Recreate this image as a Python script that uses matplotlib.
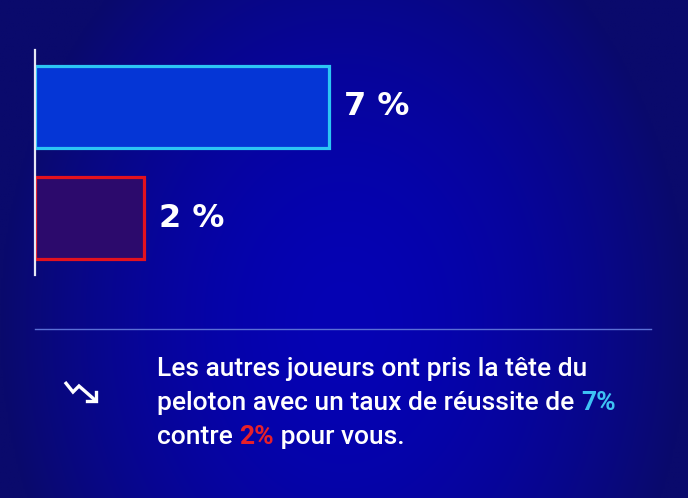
import numpy as np
import matplotlib
matplotlib.use("Agg")
import matplotlib.pyplot as plt

# data
groups = ["Autres joueurs", "Vous"]
rates = [7, 2]
rate_labels = ["7 %", "2 %"]
fills = ["#0536d6", "#2c0a6c"]
edges = ["#2cc6f4", "#e4121e"]
msg_lines = [
    [("Les autres joueurs ont pris la tête du", "white")],
    [("peloton avec un taux de réussite de ", "white"), ("7%", "#3ec3f4")],
    [("contre ", "white"), ("2%", "#e8202a"), (" pour vous.", "white")],
]

W, H = 688, 498
fig = plt.figure(figsize=(W / 100, H / 100), dpi=100)

# background gradient
bg = fig.add_axes([0, 0, 1, 1])
xx, yy = np.meshgrid(np.linspace(-1, 1, 400), np.linspace(-1, 1, 300))
r = np.clip(np.sqrt((xx / 1.0) ** 2 + ((yy - 0.3) / 1.8) ** 2), 0, 1)
center = np.array([5, 2, 180]) / 255
edge = np.array([10, 10, 108]) / 255
t = r[..., None] ** 1.8
img = center * (1 - t) + edge * t
bg.imshow(img, aspect="auto", extent=[0, 1, 0, 1])
bg.set_xlim(0, 1)
bg.set_ylim(0, 1)
bg.axis("off")

# bar chart
c = 0.946  # bars start a little left of zero
ax = fig.add_axes([35 / W, (H - 275) / H, 615 / W, 225 / H])
ax.patch.set_alpha(0)
y = np.arange(len(groups))
ax.barh(y, [v + c for v in rates], left=-c, height=0.735,
        color=fills, edgecolor=edges, linewidth=2.3)
for yi, v, lab in zip(y, rates, rate_labels):
    ax.annotate(lab, xy=(v, yi), xytext=(11, 0), textcoords="offset points",
                va="center", ha="left", color="white", fontsize=23,
                fontweight="bold", family="DejaVu Sans")
ax.set_xlim(-c, -c + 615 / 37)
ax.set_ylim(1.507, -0.511)
for s in ["top", "right", "bottom"]:
    ax.spines[s].set_visible(False)
ax.spines["left"].set_color("#e6e8f4")
ax.spines["left"].set_linewidth(1.6)
ax.set_xticks([])
ax.set_yticks([])

# separator
bg.plot([35 / W, 651 / W], [1 - 329 / H, 1 - 329 / H], color="#5b6fd6", lw=1.0)

# trend icon
ic = [(65, 382), (73, 392), (79, 386), (95, 400)]
bg.plot([p[0] / W for p in ic], [1 - p[1] / H for p in ic], color="white",
        lw=2.4, solid_capstyle="butt", solid_joinstyle="miter")
bg.plot([87 / W, 96 / W, 96 / W], [1 - 401 / H, 1 - 401 / H, 1 - 392 / H],
        color="white", lw=2.4, solid_joinstyle="miter")

# message text
x0 = 157 / W
ys = [369, 403, 437]
for line, yl in zip(msg_lines, ys):
    prev = None
    for txt, col in line:
        if prev is None:
            prev = bg.text(x0, 1 - yl / H, txt, color=col, fontsize=19,
                           family="Roboto", fontweight="medium", va="center",
                           ha="left")
        else:
            fw = "bold" if col != "white" else "medium"
            prev = bg.annotate(txt, xy=(1, 0), xycoords=prev, va="bottom",
                               ha="left", color=col, fontsize=19,
                               family="Roboto", fontweight=fw)

fig.savefig("out.png", dpi=100)
